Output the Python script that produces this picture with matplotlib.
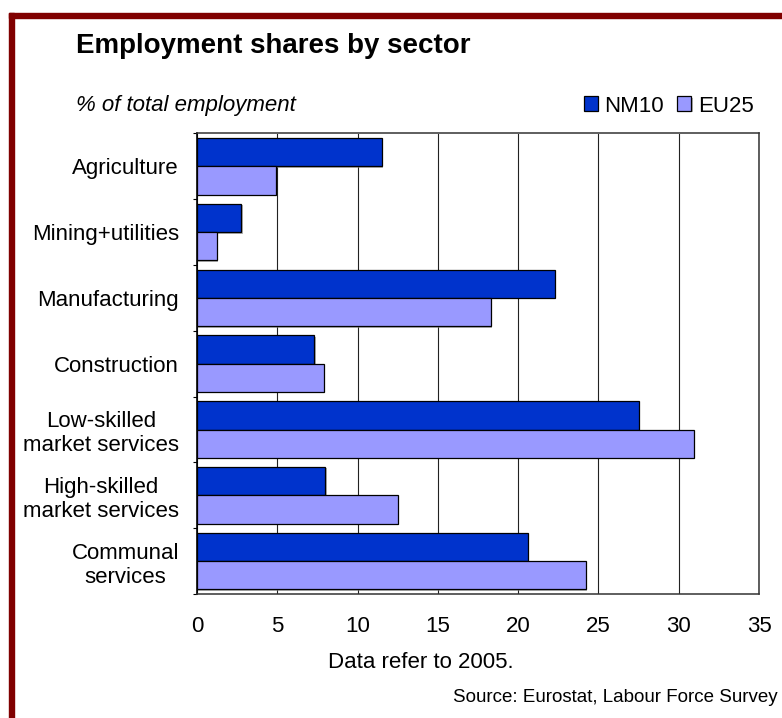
import numpy as np
import matplotlib.pyplot as plt
import matplotlib.patheffects as pe
from matplotlib.patches import Rectangle

plt.rcParams['font.family'] = ['Liberation Sans', 'DejaVu Sans']

sectors = ['Agriculture', 'Mining+utilities', 'Manufacturing', 'Construction',
           'Low-skilled\nmarket services', 'High-skilled\nmarket services',
           'Communal\nservices']
nm10 = [11.5, 2.75, 22.3, 7.3, 27.5, 8.0, 20.6]
eu25 = [4.9, 1.25, 18.3, 7.9, 30.95, 12.5, 24.2]
xticks = [0, 5, 10, 15, 20, 25, 30, 35]

W, H = 782, 718
fig = plt.figure(figsize=(W / 100, H / 100), dpi=100)
ax = fig.add_axes([197 / W, 1 - 594 / H, (759 - 197) / W, (594 - 133.5) / H])

y = np.arange(len(sectors))
h = 0.43
shadow = [pe.SimplePatchShadow(offset=(1, -1), shadow_rgbFace='#808080', alpha=0.6),
          pe.Normal()]
ax.barh(y - h / 2, nm10, height=h, color='#0033CC', edgecolor='black',
        linewidth=0.9, label='NM10', zorder=3, path_effects=shadow)
ax.barh(y + h / 2, eu25, height=h, color='#9999FF', edgecolor='black',
        linewidth=0.9, label='EU25', zorder=3, path_effects=shadow)

ax.set_xlim(0, 35)
ax.set_ylim(len(sectors) - 0.5, -0.5)
ax.set_xticks(xticks)
ax.tick_params(axis='x', length=0, pad=16, labelsize=16)
ax.xaxis.grid(True, color='#222222', linewidth=0.8)
ax.set_axisbelow(True)

# category separators as major ticks, names on minor ticks
ax.set_yticks(np.arange(-0.5, len(sectors), 1))
ax.set_yticks(y, sectors, minor=True)
ax.tick_params(axis='y', which='major', length=3, width=0.8, labelleft=False)
ax.tick_params(axis='y', which='minor', length=0, pad=13, labelsize=16)
for t in ax.get_yticklabels(minor=True):
    t.set_multialignment('center')

for side in ['top', 'bottom', 'right']:
    ax.spines[side].set_color('#333333')
    ax.spines[side].set_linewidth(1.1)
ax.spines['left'].set_color('black')
ax.spines['left'].set_linewidth(1.2)

ax.legend(ncol=2, frameon=False, fontsize=16, handlelength=0.63,
          handleheight=0.63, handletextpad=0.3, columnspacing=0.6,
          borderpad=0, loc='center right',
          bbox_to_anchor=(765 / W, 1 - 106 / H), bbox_transform=fig.transFigure)

fig.text(76 / W, 1 - 53 / H, 'Employment shares by sector', fontsize=20,
         fontweight='bold', va='baseline')
fig.text(76 / W, 1 - 111 / H, '% of total employment', fontsize=16,
         style='italic', va='baseline')
fig.text(421 / W, 1 - 662.5 / H, 'Data refer to 2005.', fontsize=16,
         ha='center', va='center')
fig.text(453 / W, 1 - 701.7 / H, 'Source: Eurostat, Labour Force Survey',
         fontsize=13.5, va='baseline')

# dark red frame on the left and top
frame = '#800000'
fig.add_artist(Rectangle((9 / W, 0), 5 / W, 1 - 13 / H,
                         transform=fig.transFigure, color=frame))
fig.add_artist(Rectangle((9 / W, 1 - 18 / H), 1, 5 / H,
                         transform=fig.transFigure, color=frame))

fig.savefig('out.png', dpi=100)
